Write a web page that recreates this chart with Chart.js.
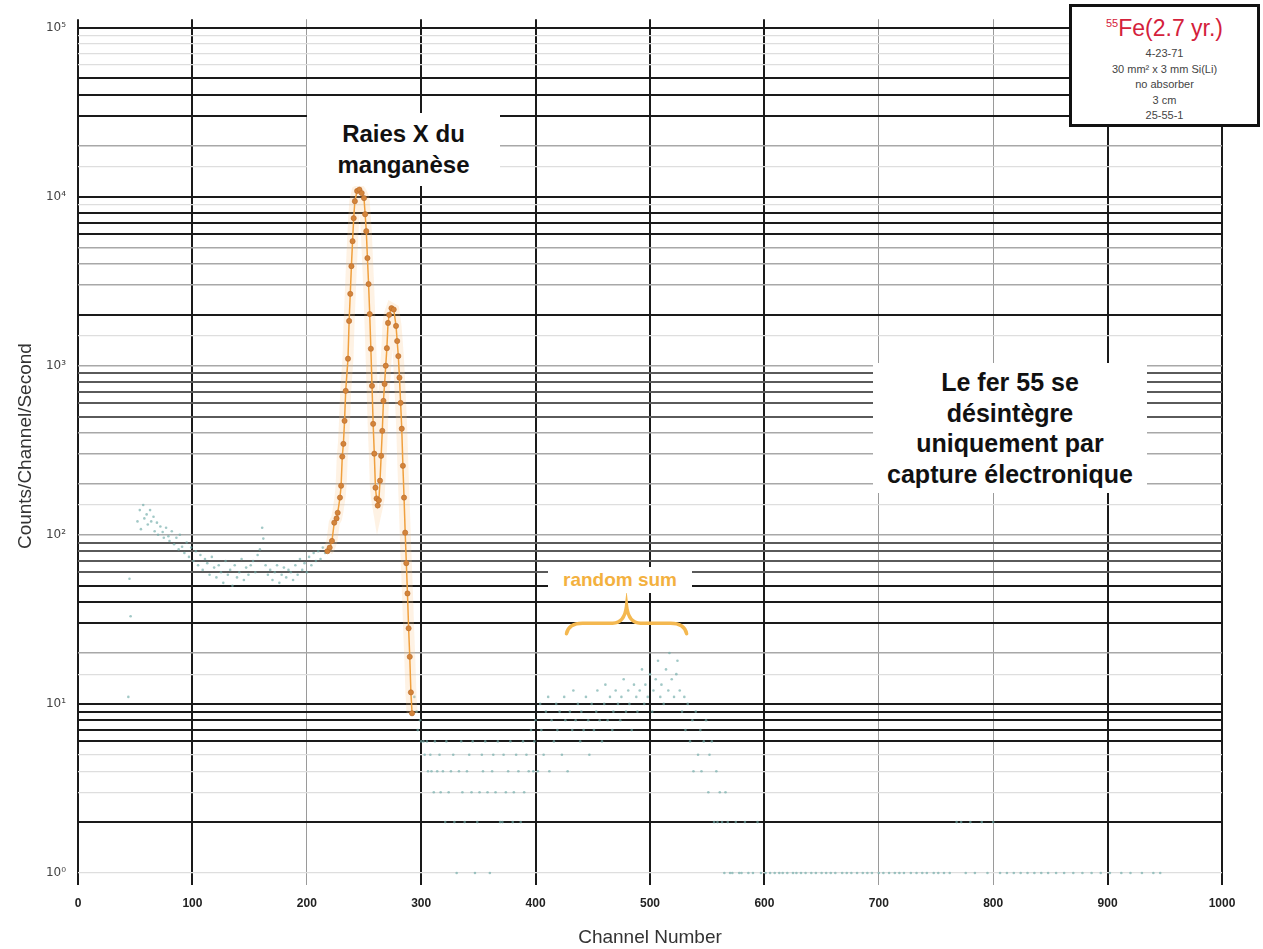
<!DOCTYPE html>
<html>
<head>
<meta charset="utf-8">
<script src="https://cdn.jsdelivr.net/npm/chart.js@4.4.0/dist/chart.umd.min.js"></script>
<style>
  body { margin: 0; background: #fff; font-family: "Liberation Sans", Arial, sans-serif; }
  #wrap { position: relative; width: 1263px; height: 949px; overflow: hidden; }
  #spectrum { position: absolute; left: 0; top: 0; }
  .note { position: absolute; background: #fff; text-align: center; font-weight: bold; color: #111; }
  #raies { left: 307px; top: 113px; width: 193px; height: 73px; font-size: 24px; line-height: 31px; padding-top: 5px; box-sizing: border-box; }
  #fer { left: 873px; top: 363px; width: 274px; height: 130px; font-size: 25px; line-height: 30.5px; padding-top: 4px; box-sizing: border-box; }
  #sum { left: 548px; top: 567px; width: 144px; height: 26px; font-size: 19px; line-height: 26px; color: #f3b13f; }
  #source { position: absolute; left: 1069px; top: 4px; width: 191px; height: 123px; box-sizing: border-box;
            border: 3px solid #111; background: #fff; text-align: center; }
  #source .iso { color: #d4213b; font-size: 23px; line-height: 26px; margin-top: 3px; }
  #source .iso span { font-size: 11px; vertical-align: 9px; }
  #source .info { color: #444; font-size: 11px; line-height: 15.6px; margin-top: 5px; }
</style>
</head>
<body>
<div id="wrap">
  <canvas id="spectrum" width="1263" height="949"></canvas>
  <div class="note" id="raies">Raies X du<br>manganèse</div>
  <div class="note" id="fer">Le fer 55 se<br>désintègre<br>uniquement par<br>capture électronique</div>
  <div class="note" id="sum">random sum</div>
  <div id="source">
    <div class="iso"><span>55</span>Fe(2.7 yr.)</div>
    <div class="info">4-23-71<br>30 mm² x 3 mm Si(Li)<br>no absorber<br>3 cm<br>25-55-1</div>
  </div>
</div>
<script>
// Mn X-ray peaks (orange line)
const peakChannels = [218, 220, 222, 224, 226, 227, 229, 230, 231, 232,
  233, 234, 236, 237, 238, 239, 240, 241, 242, 244,
  246, 248, 250, 251, 252, 253, 254, 255, 256, 257,
  258, 259, 260, 261, 262, 263, 264, 265, 266, 267,
  268, 269, 270, 271, 272, 274, 276, 278, 279, 280,
  281, 282, 283, 284, 285, 286, 287, 288, 289, 290,
  291, 292];
const peakCounts = [80, 84, 92, 118, 125, 135, 166, 195, 290, 345,
  472, 710, 1100, 1840, 2660, 3880, 5450, 7460, 9400, 10800,
  11000, 10500, 9800, 7870, 6250, 4330, 3040, 2020, 1260, 760,
  453, 302, 190, 164, 149, 160, 209, 293, 412, 620,
  780, 1000, 1270, 1790, 2000, 2190, 2150, 1720, 1400, 1140,
  850, 603, 424, 256, 166, 103, 68, 45, 28, 19,
  11.7, 8.8];

// low energy background (teal dots)
const lowChannels = [44, 45, 46, 52, 54, 55, 57, 58, 60, 61, 63, 64, 66, 67, 69, 70, 72, 74, 75, 77,
  79, 80, 82, 84, 86, 88, 89, 91, 93, 95, 97, 99, 101, 103, 105, 107, 109, 111, 113, 115,
  117, 119, 121, 123, 125, 127, 129, 131, 133, 135, 137, 139, 141, 143, 145, 147, 149, 151, 153, 155,
  157, 159, 161, 162, 164, 166, 168, 170, 172, 174, 176, 178, 180, 182, 184, 186, 188, 190, 192, 194,
  196, 198, 200, 202, 204, 206, 208, 210, 212, 214, 216];
const lowCounts = [11, 55, 33, 120, 140, 108, 150, 125, 132, 115, 140, 120, 128, 105, 118, 100, 112, 104, 96, 110,
  98, 92, 105, 88, 96, 82, 100, 85, 78, 90, 74, 84, 70, 80, 66, 76, 62, 72, 68, 58,
  74, 64, 56, 66, 60, 52, 70, 58, 62, 50, 66, 56, 60, 72, 54, 64, 58, 66, 70, 60,
  76, 82, 110, 95, 66, 58, 62, 54, 60, 66, 52, 58, 64, 56, 62, 60, 54, 66, 58, 72,
  62, 68, 60, 74, 66, 78, 70, 80, 72, 84, 78];

// region above the peaks, up to the random sum hump
const midChannels = [294, 296, 297, 299, 300, 302, 303, 305, 306, 308,
  309, 311, 312, 314, 316, 317, 319, 321, 322, 324,
  326, 328, 329, 331, 333, 335, 336, 338, 340, 342,
  344, 345, 347, 349, 351, 353, 354, 356, 358, 360,
  362, 363, 365, 367, 369, 371, 372, 374, 376, 378,
  380, 381, 383, 385, 387, 389, 390, 392, 394, 396,
  398, 399];
const midCounts = [11, 9, 7, 8, 6, 6, 5, 6, 4, 5,
  4, 3, 6, 4, 5, 3, 4, 2, 6, 3,
  4, 5, 2, 1, 4, 6, 3, 2, 4, 5,
  3, 6, 1, 2, 3, 5, 4, 6, 3, 1,
  4, 5, 3, 6, 2, 2, 5, 3, 4, 6,
  2, 3, 5, 4, 2, 6, 3, 5, 4, 7,
  4, 6];

// random sum hump
const sumChannels = [400, 402, 404, 405, 407, 409, 411, 412, 414, 416,
  418, 419, 421, 423, 425, 426, 428, 430, 432, 433,
  435, 437, 439, 440, 442, 444, 446, 447, 449, 451,
  453, 454, 456, 458, 460, 461, 463, 465, 467, 468,
  470, 472, 474, 475, 477, 479, 481, 482, 484, 486,
  488, 489, 491, 493, 495, 496, 498, 500, 502, 503,
  505, 507, 509, 510, 512, 514, 516, 517, 519, 521,
  523, 524, 526, 528, 530, 531, 533, 535, 537, 538,
  540, 542, 544, 545, 547, 549, 551, 552, 554, 556,
  558, 559, 561, 563, 565, 566, 568, 570];
const sumCounts = [8, 4, 10, 7, 5, 9, 11, 4, 8, 6,
  10, 7, 9, 5, 11, 8, 4, 9, 7, 12,
  8, 10, 6, 9, 7, 11, 8, 5, 10, 7,
  9, 12, 8, 6, 10, 13, 8, 11, 7, 9,
  12, 10, 8, 11, 14, 9, 12, 10, 7, 13,
  11, 9, 12, 16, 10, 13, 11, 15, 9, 12,
  14, 18, 11, 13, 10, 16, 12, 20, 14, 11,
  15, 18, 12, 9, 11, 7, 10, 6, 8, 4,
  9, 5, 7, 4, 6, 8, 3, 5, 6, 2,
  4, 2, 3, 2, 1, 3, 2, 1];

// high channel tail
const tailChannels = [572, 575, 578, 580, 583, 586, 590, 594, 597, 601,
  605, 609, 613, 616, 620, 625, 628, 632, 636, 641,
  645, 650, 654, 658, 662, 668, 672, 676, 681, 686,
  690, 694, 700, 704, 709, 714, 718, 722, 728, 733,
  738, 742, 748, 752, 757, 762, 768, 772, 776, 780,
  784, 790, 795, 800, 806, 812, 818, 824, 830, 836,
  842, 848, 855, 862, 870, 878, 886, 894, 902, 912,
  920, 930, 940, 946];
const tailCounts = [1, 2, 1, 1, 2, 1, 1, 2, 1, 1,
  1, 1, 1, 1, 1, 1, 1, 1, 1, 1,
  1, 1, 1, 1, 1, 1, 1, 1, 1, 1,
  1, 1, 1, 1, 1, 1, 1, 1, 1, 1,
  1, 1, 1, 1, 1, 1, 2, 2, 1, 2,
  1, 2, 1, 2, 1, 1, 1, 1, 1, 1,
  1, 1, 1, 1, 1, 1, 1, 1, 1, 1,
  1, 1, 1, 1];

const channelTicks = [0, 100, 200, 300, 400, 500, 600, 700, 800, 900, 1000];
const decadeLabels = { 1: "10⁰", 10: "10¹", 100: "10²", 1000: "10³", 10000: "10⁴", 100000: "10⁵" };

// graph paper line weights
const thinChannelLines = [200, 700, 800];
const boldCountLines = [100000, 50000, 40000, 30000, 10000, 8000, 7000, 6000, 2000, 50, 40, 30, 10, 9, 8, 7, 6, 2];
const darkCountLines = [900, 800, 700, 600, 500, 90, 80, 70, 60];
const midCountLines = [20000, 5000, 4000, 3000, 1000, 400, 300, 200, 100, 20];

function pairs(xs, ys) {
  return xs.map((x, i) => ({ x: x, y: ys[i] }));
}

function countLineStyle(v) {
  v = Math.round(v);
  if (boldCountLines.includes(v)) return ["#1a1a1a", 2];
  if (darkCountLines.includes(v)) return ["#5a5a5a", 2];
  if (midCountLines.includes(v)) return ["#a8a8a8", 1.5];
  return ["#dedede", 1.2];
}

const braceLabel = {
  id: "braceLabel",
  afterDatasetsDraw(chart) {
    const { ctx, scales } = chart;
    const x0 = scales.x.getPixelForValue(427);
    const x1 = scales.x.getPixelForValue(532);
    const xm = (x0 + x1) / 2;
    const yb = scales.y.getPixelForValue(30);
    const tip = scales.y.getPixelForValue(38);
    const end = scales.y.getPixelForValue(26);
    ctx.save();
    ctx.strokeStyle = "#f4b850";
    ctx.lineWidth = 3.5;
    ctx.lineCap = "round";
    ctx.beginPath();
    ctx.moveTo(x0, end);
    ctx.quadraticCurveTo(x0 + 2, yb, x0 + 16, yb);
    ctx.lineTo(xm - 14, yb);
    ctx.quadraticCurveTo(xm - 2, yb, xm, tip);
    ctx.quadraticCurveTo(xm + 2, yb, xm + 14, yb);
    ctx.lineTo(x1 - 16, yb);
    ctx.quadraticCurveTo(x1 - 2, yb, x1, end);
    ctx.stroke();
    ctx.restore();
  },
};

const noise = pairs(lowChannels, lowCounts)
  .concat(pairs(midChannels, midCounts))
  .concat(pairs(sumChannels, sumCounts))
  .concat(pairs(tailChannels, tailCounts));

new Chart(document.getElementById("spectrum"), {
  type: "scatter",
  data: {
    datasets: [
      {
        data: pairs(peakChannels, peakCounts),
        showLine: true,
        tension: 0,
        borderColor: "#f0a03e",
        borderWidth: 1.5,
        pointRadius: 2.6,
        pointBackgroundColor: "#d3843a",
        pointBorderColor: "#b8692a",
        pointBorderWidth: 0.6,
      },
      {
        data: pairs(peakChannels, peakCounts),
        showLine: true,
        tension: 0,
        borderColor: "rgba(250, 195, 130, 0.22)",
        borderWidth: 11,
        pointRadius: 0,
      },
      {
        data: noise,
        pointRadius: 1.3,
        pointBackgroundColor: "rgba(110, 170, 168, 0.65)",
        pointBorderWidth: 0,
        clip: false,
      },
    ],
  },
  options: {
    responsive: false,
    animation: false,
    layout: { padding: { top: 18, right: 41, left: 0, bottom: 0 } },
    plugins: { legend: { display: false }, tooltip: { enabled: false } },
    scales: {
      x: {
        type: "linear",
        min: 0,
        max: 1000,
        afterBuildTicks: (s) => {
          s.ticks = channelTicks.map((v) => ({ value: v }));
        },
        afterFit: (s) => {
          s.height = 76;
        },
        border: { display: false },
        grid: {
          color: (c) => (thinChannelLines.includes(c.tick.value) ? "#9a9a9a" : "#1a1a1a"),
          lineWidth: (c) => (thinChannelLines.includes(c.tick.value) ? 1 : 2),
          drawTicks: true,
          tickLength: 12,
        },
        ticks: {
          padding: 11,
          color: "#222",
          font: { family: "'Liberation Sans', Arial, sans-serif", size: 12, weight: "bold" },
          callback: (v) => String(v),
        },
        title: {
          display: true,
          text: "Channel Number",
          color: "#333",
          font: { family: "'Liberation Sans', Arial, sans-serif", size: 19 },
          padding: { top: 0, bottom: 0 },
        },
      },
      y: {
        type: "logarithmic",
        min: 1,
        max: 112000,
        afterBuildTicks: (s) => {
          s.ticks = s.ticks.filter((t) => t.value <= 100000);
        },
        afterFit: (s) => {
          s.width = 78;
        },
        border: { display: false },
        grid: {
          color: (c) => countLineStyle(c.tick.value)[0],
          lineWidth: (c) => countLineStyle(c.tick.value)[1],
          drawTicks: false,
        },
        ticks: {
          autoSkip: false,
          padding: 12,
          color: "#444",
          font: { family: "'DejaVu Sans', 'Liberation Sans', sans-serif", size: 12 },
          callback: (v) => decadeLabels[Math.round(v)] || "",
        },
        title: {
          display: true,
          text: "Counts/Channel/Second",
          color: "#333",
          font: { family: "'Liberation Sans', Arial, sans-serif", size: 19 },
          padding: { top: 14, bottom: 0 },
        },
      },
    },
  },
  plugins: [braceLabel],
});
</script>
</body>
</html>
